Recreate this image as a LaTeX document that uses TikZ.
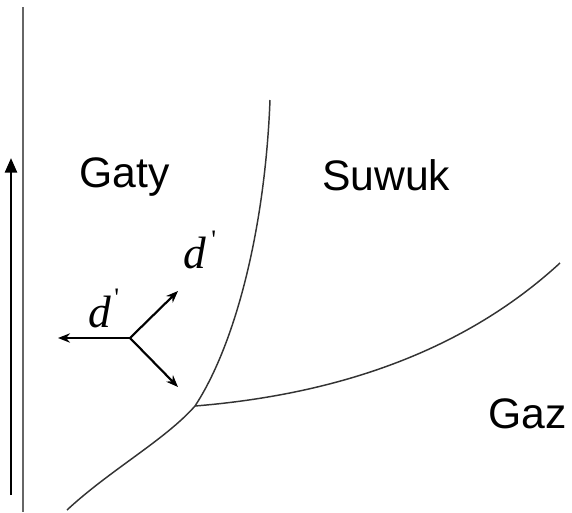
\documentclass[tikz,border=0pt]{standalone}
\usepackage{fontspec}
\setmainfont{Liberation Sans}
\newfontfamily\serifit{Liberation Serif}
\usetikzlibrary{arrows.meta}
\begin{document}
\begin{tikzpicture}[x=0.75pt,y=-0.75pt,
  lbl/.style={anchor=base west,inner sep=0pt,font=\fontsize{32}{34}\selectfont},
  dlbl/.style={anchor=base west,inner sep=0pt,font=\fontsize{34}{36}\serifit\itshape},
  plbl/.style={anchor=base west,inner sep=0pt,font=\fontsize{20}{22}\serifit},
  curve/.style={line width=1.1pt,draw=black!80},
  vec/.style={line width=1.6pt,-{Stealth[length=9pt,width=7pt]}}]
\useasboundingbox (0,0) rectangle (572,512);
% axis
\coordinate (axt) at (23,7);
\coordinate (axb) at (23,512);
\draw[line width=1.6pt,draw=black!60] (axt) -- (axb);
\coordinate (arb) at (11,495);
\coordinate (art) at (11,158);
\draw[line width=2pt,-{Triangle[length=11pt,width=9pt]}] (arb) -- (art);
% phase boundaries
\coordinate (tp) at (195,406);
\coordinate (sl) at (270,100);
\coordinate (lg) at (560,263);
\coordinate (sg) at (67,510);
\draw[curve] (tp) .. controls (235,345) and (265,230) .. (sl);
\draw[curve] (tp) .. controls (330,395) and (460,355) .. (lg);
\draw[curve] (tp) .. controls (165,440) and (110,470) .. (sg);
% vectors
\coordinate (c) at (130,338);
\coordinate (vl) at (58,338);
\coordinate (vu) at (178,291);
\coordinate (vd) at (178,387);
\draw[vec] (c) -- (vl);
\draw[vec] (c) -- (vu);
\draw[vec] (c) -- (vd);
% labels
\node[lbl] (gaty) at (79,187) {Gaty};
\node[lbl] (suwuk) at (322,190) {Suwuk};
\node[lbl] (gaz) at (488,428) {Gaz};
\node[dlbl] (d1) at (183,268) {d};
\node[plbl] (p1) at (211,248) {'};
\node[dlbl] (d2) at (88,327) {d};
\node[plbl] (p2) at (114,306) {'};
\end{tikzpicture}
\end{document}
